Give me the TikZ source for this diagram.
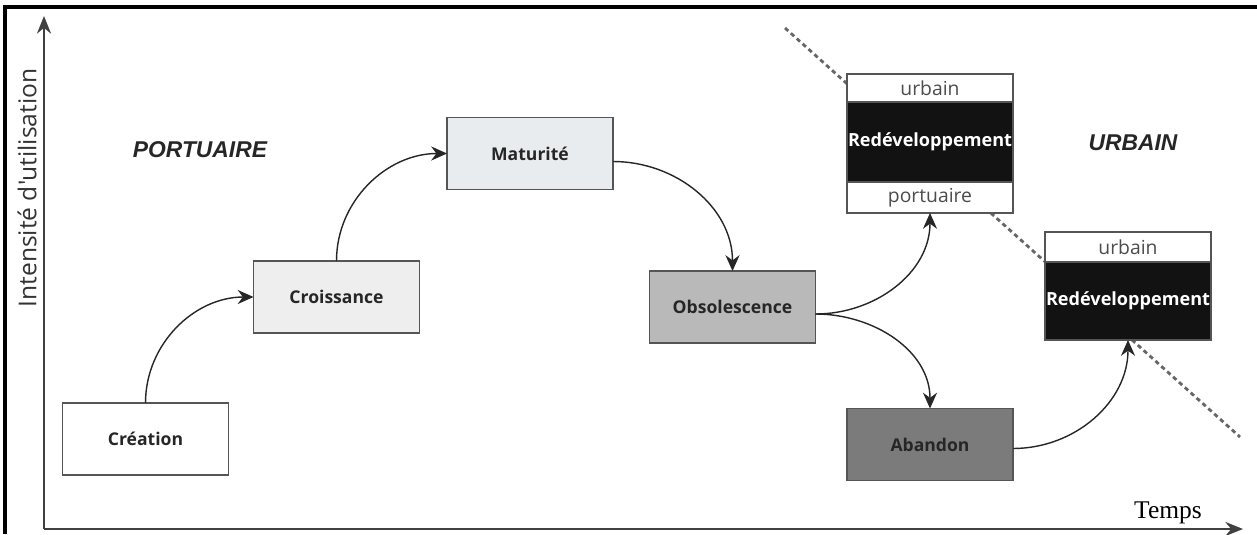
\documentclass[tikz,border=0pt]{standalone}
\usepackage{fontspec}
\setmainfont{Liberation Serif}
\newfontfamily\boxfont{Open Sans}
\newfontfamily\zonefont{Liberation Sans}
\usepackage{xcolor}
\usetikzlibrary{arrows.meta,positioning}
\definecolor{croisfill}{HTML}{EEEEEE}
\definecolor{maturfill}{HTML}{E8ECEF}
\definecolor{obsolfill}{HTML}{B9B9B9}
\definecolor{abandfill}{HTML}{7B7B7B}
\definecolor{boxline}{HTML}{555555}
\tikzset{
  phase/.style={draw=boxline, line width=0.9pt, minimum width=3.32cm, minimum height=1.44cm,
    inner sep=0pt, outer sep=0pt, font=\boxfont\bfseries\fontsize{10}{12}\selectfont, text=black!85},
  tag/.style={draw=boxline, line width=0.9pt, fill=white, minimum width=3.32cm, inner sep=0pt,
    outer sep=0pt, font=\boxfont\fontsize{11}{13}\selectfont, text=black!70},
  redev/.style={draw=boxline, line width=0.9pt, fill=black!93, minimum width=3.32cm, inner sep=0pt,
    outer sep=0pt, font=\boxfont\bfseries\fontsize{10.3}{12}\selectfont, text=white},
  zone/.style={font=\zonefont\bfseries\itshape\fontsize{13}{15}\selectfont, text=black!85},
  flow/.style={-{Stealth[length=9pt,width=8pt]}, line width=0.8pt, black!85},
  axis/.style={-{Stealth[length=10pt,width=8pt]}, line width=1.3pt, black!75}
}
\begin{document}
\begin{tikzpicture}[x=0.02cm, y=-0.02cm]
\useasboundingbox (0,0) rectangle (1257,534);
% frame
\draw[line width=2pt] (5,534) -- (5,7) -- (1257,7);

% axes
\coordinate (origin) at (44,529);
\coordinate (ytop) at (44,16);
\coordinate (xend) at (1243,529);
\draw[axis] (origin) -- (ytop);
\draw[axis] (origin) -- (xend);
\node[rotate=90, font=\boxfont\fontsize{14}{16}\selectfont, text=black!80] (ylab) at (27,188) {Intensité d'utilisation};
\node[font=\fontsize{14.5}{16}\selectfont] (xlab) at (1168,513) {Temps};

% boundary
\coordinate (lineA) at (785,28);
\coordinate (lineB) at (1240,437);
\draw[black!60, line width=1.6pt, dash pattern=on 2.5pt off 2pt] (lineA) -- (lineB);

% zones
\node[zone] (port) at (200,150) {PORTUAIRE};
\node[zone] (urb) at (1133,143) {URBAIN};

% nodes
\node[phase, fill=white] (creation) at (145.5,439) {Création};
\node[phase, fill=croisfill] (croissance) at (336.5,297) {Croissance};
\node[phase, fill=maturfill] (maturite) at (530,153.5) {Maturité};
\node[phase, fill=obsolfill] (obsol) at (732.5,307) {Obsolescence};
\node[phase, fill=abandfill] (abandon) at (930,444.5) {Abandon};

\node[tag, minimum height=0.56cm] (urbA) at (930,88) {urbain};
\node[redev, minimum height=1.6cm, below=0pt of urbA] (redevA) {Redéveloppement};
\node[tag, minimum height=0.62cm, below=0pt of redevA] (portA) {portuaire};

\node[tag, minimum height=0.6cm] (urbB) at (1128,247) {urbain};
\node[redev, minimum height=1.56cm, below=0pt of urbB] (redevB) {Redéveloppement};

% edges
\draw[flow] (creation.north) to[out=90, in=180] (croissance.west);
\draw[flow] (croissance.north) to[out=90, in=180] (maturite.west);
\draw[flow] ([yshift=-8*0.02cm]maturite.east) to[out=0, in=90] (obsol.north);
\draw[flow] ([yshift=-7*0.02cm]obsol.east) to[out=0, in=-90] (portA.south);
\draw[flow] ([yshift=-7*0.02cm]obsol.east) to[out=0, in=90] (abandon.north);
\draw[flow] ([yshift=-4*0.02cm]abandon.east) to[out=0, in=-90] (redevB.south);
\end{tikzpicture}
\end{document}
